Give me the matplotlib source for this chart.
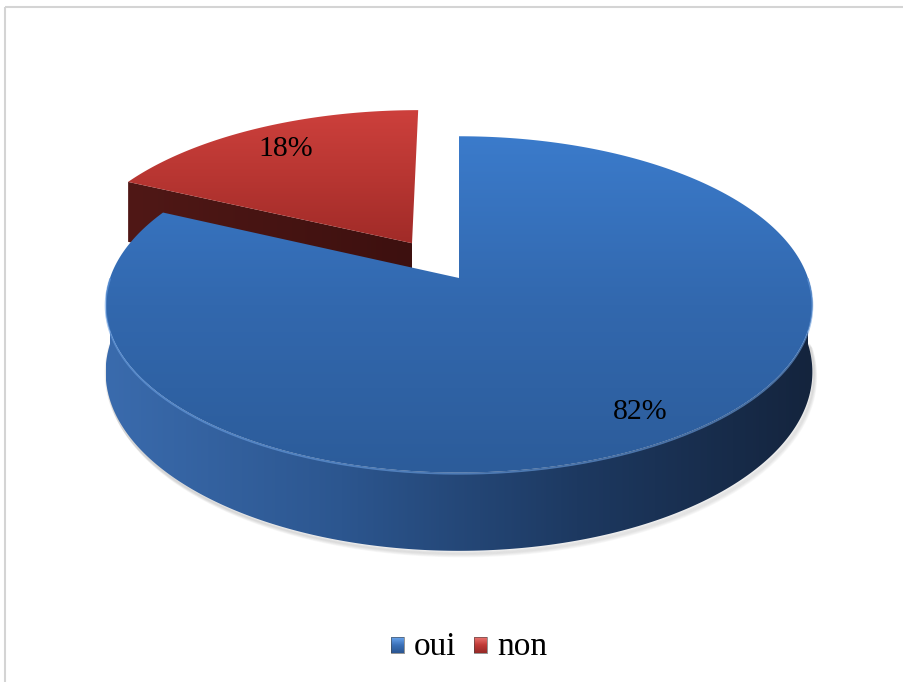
import numpy as np
import matplotlib
matplotlib.use("Agg")
import matplotlib.pyplot as plt
from matplotlib.patches import Polygon, Rectangle
from matplotlib.colors import LinearSegmentedColormap

labels = ["oui", "non"]
values = [82, 18]
explode = [0.0, 0.26]

# face colours per slice
top_cols = [["#3b7bcb", "#3268ae", "#2c5c9a"], ["#cd403c", "#b83632", "#a12b28"]]
side_cols = [["#3a6bad", "#2c568f", "#1d3961", "#14243d"], ["#5a1a18", "#3e0f0e"]]
cut_cols = [["#2a5286", "#1a3050"], ["#501816", "#3d100f"]]
key_cols = [["#6aa6ee", "#3a70b8", "#2a5590"], ["#ec7470", "#c03a36", "#952a27"]]
label_r = [0.86, 0.80]

W, H = 904, 682
cx, cy = 459, 278     # projected centre of the top face
a, b = 349, 164       # half axes before perspective
k = 0.157             # perspective strength
depth = 66            # thickness of the pie

plt.rcParams["font.family"] = ["Liberation Serif", "DejaVu Serif"]


def proj(X, Z, drop=0.0):
    w = 1 + k * Z
    return cx + a * X / w, cy - b * Z / w + drop / w


def grad_fill(ax, xs, ys, stops, horizontal=False, z=1):
    xs = np.asarray(xs); ys = np.asarray(ys)
    poly = Polygon(np.column_stack([xs, ys]), closed=True, fc="none", ec="none")
    ax.add_patch(poly)
    cmap = LinearSegmentedColormap.from_list("g", stops)
    g = np.linspace(0, 1, 256)
    img = g[None, :] if horizontal else g[:, None]
    im = ax.imshow(img, cmap=cmap, extent=(xs.min(), xs.max(), ys.max(), ys.min()),
                   aspect="auto", interpolation="bilinear", zorder=z)
    im.set_clip_path(poly)


fig = plt.figure(figsize=(W / 100, H / 100), dpi=100)
ax = fig.add_axes([0, 0, 1, 1])

fracs = np.array(values) / sum(values)
slices = []
start = 90.0
for f, e in zip(fracs, explode):
    slices.append((start, start - f * 360, e))
    start -= f * 360

# back slices first
order = sorted(range(len(slices)),
               key=lambda i: -slices[i][2] * np.sin(np.radians((slices[i][0] + slices[i][1]) / 2)))

z = 2
for i in order:
    t1, t2, e = slices[i]
    mid = np.radians((t1 + t2) / 2)
    ox, oz = e * np.cos(mid), e * np.sin(mid)
    th = np.radians(np.linspace(t1, t2, 300))
    tx, ty = proj(ox + np.cos(th), oz + np.sin(th))
    px, py = proj(ox, oz)

    # cut faces along the radii
    for ang, sgn in ((t1, 1), (t2, -1)):
        nrm = np.radians(ang + sgn * 90)
        if np.sin(nrm) < -1e-6:
            ex, ez = ox + np.cos(np.radians(ang)), oz + np.sin(np.radians(ang))
            x0, y0 = proj(ox, oz)
            x1, y1 = proj(ex, ez)
            x2, y2 = proj(ex, ez, depth)
            x3, y3 = proj(ox, oz, depth)
            grad_fill(ax, [x0, x1, x2, x3], [y0, y1, y2, y3], cut_cols[i], horizontal=True, z=z)
            z += 1

    # outer wall, front half only
    for m in (-360, 0, 360):
        lo, hi = max(t2, -180 + m), min(t1, m)
        if lo < hi:
            ph = np.radians(np.linspace(hi, lo, 300))
            X, Z = ox + np.cos(ph), oz + np.sin(ph)
            ux, uy = proj(X, Z)
            bx, by = proj(X, Z, depth)
            for s in range(1, 7):
                ax.plot(bx + s * 0.5, by + s * 0.8, color="#808080", alpha=0.06,
                        lw=2.5, solid_capstyle="round", zorder=1)
            ax.plot(bx[-40:] + 3, by[-40:], color="#808080", alpha=0.15, lw=4, zorder=1)
            grad_fill(ax, np.r_[ux, bx[::-1]], np.r_[uy, by[::-1]], side_cols[i],
                      horizontal=True, z=z)
            z += 1
            rim_x, rim_y = ux, uy
            ax.plot(rim_x, rim_y + 1.2, color="#6b9fe0", lw=1.3, alpha=0.6, zorder=z + 2)

    grad_fill(ax, np.r_[px, tx], np.r_[py, ty], top_cols[i], z=z)
    z += 3

    lx, ly = proj(ox + label_r[i] * np.cos(mid), oz + label_r[i] * np.sin(mid))
    ax.text(lx, ly, f"{values[i]}%", fontsize=21.5, ha="center", va="center",
            color="black", zorder=50)

# legend
key_x = [391, 474]
for i, lab in enumerate(labels):
    x0 = key_x[i]
    grad_fill(ax, [x0, x0 + 13, x0 + 13, x0], [637, 637, 653, 653], key_cols[i], z=40)
    ax.add_patch(Rectangle((x0, 637), 13, 16, fill=False, ec="#444444", lw=0.4, zorder=41))
    ax.text(x0 + 23, 647, lab, fontsize=24, ha="left", va="center", color="black", zorder=50)

ax.add_patch(Rectangle((5.5, 6.5), 920, 700, fill=False, ec="#d4d4d4", lw=1.5, zorder=60))

ax.set_xlim(0, W)
ax.set_ylim(H, 0)
ax.axis("off")
fig.savefig("out.png", dpi=100)
